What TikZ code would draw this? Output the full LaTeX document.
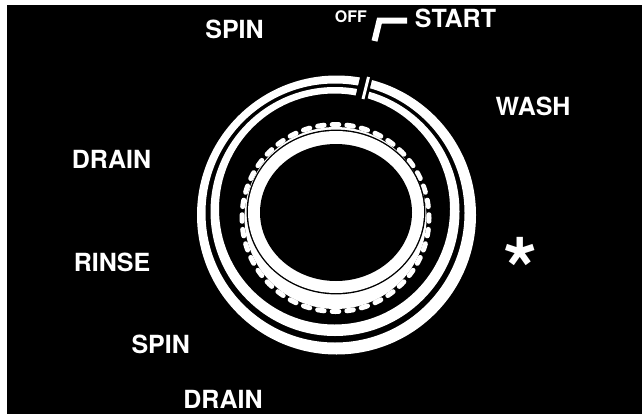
\documentclass[tikz,border=0pt]{standalone}
\usepackage{fontspec}
\setmainfont{TeX Gyre Heros}
\tikzset{
  lbl/.style={text=white, font=\fontsize{25}{30}\selectfont\bfseries, inner sep=0pt, anchor=base},
  smalllbl/.style={text=white, font=\fontsize{16}{19}\selectfont\bfseries, inner sep=0pt, anchor=base},
  bump/.style={white, line width=5pt, line cap=round},
}
\begin{document}
\begin{tikzpicture}[x=1pt, y=-1pt]
\useasboundingbox (0,0) rectangle (642,415);
\fill[white] (0,0) rectangle (642,415);
\fill[black] (7,5) rectangle (642,414);
% outer bands
\fill[white, even odd rule] (336.5,215) circle[radius=139.5pt] (335,213) circle[radius=129.5pt];
\fill[white, even odd rule] (335,211.5) circle[radius=124.5pt] (334.5,209) circle[radius=115.5pt];
% gap at top and slash
\fill[black] (362.25,68) -- (374.75,68) -- (366,105) -- (353.5,105) -- cycle;
\draw[white, line width=3pt] (368.5,77) -- (363,99);
% knob
\fill[white] (335.5,218) circle[radius=91pt];
\begin{scope}[shift={(335.5,218)}]
  \foreach \a in {0,9,...,351}
    \draw[bump] (\a-2:93.5pt) arc[start angle=\a-2, end angle=\a+2, radius=93.5pt];
\end{scope}
\fill[black] (336,212) ellipse[x radius=89.4pt, y radius=82.4pt];
\fill[white] (336,212) ellipse[x radius=88pt, y radius=81pt];
\fill[black] (336,212.5) ellipse[x radius=76pt, y radius=68.5pt];
% OFF/START marker
\draw[white, line width=6pt, line join=miter] (374.5,41) -- (379.5,20.5) -- (407,20.5);
% labels
\node[lbl] (spin1) at (234.5,38.3) {SPIN};
\node[smalllbl] (off) at (350.8,22.7) {OFF};
\node[lbl] (start) at (455.5,27.3) {START};
\node[lbl] (wash) at (533,115) {WASH};
\node[lbl] (drain1) at (111.5,168.3) {DRAIN};
\node[lbl] (rinse) at (112,271.7) {RINSE};
\node[lbl] (spin2) at (160.7,353.3) {SPIN};
\node[lbl] (drain2) at (223,408.3) {DRAIN};
\node[text=white, font=\fontsize{88}{96}\selectfont\bfseries, inner sep=0pt, anchor=north] (star) at (521,237) {*};
\end{tikzpicture}
\end{document}
